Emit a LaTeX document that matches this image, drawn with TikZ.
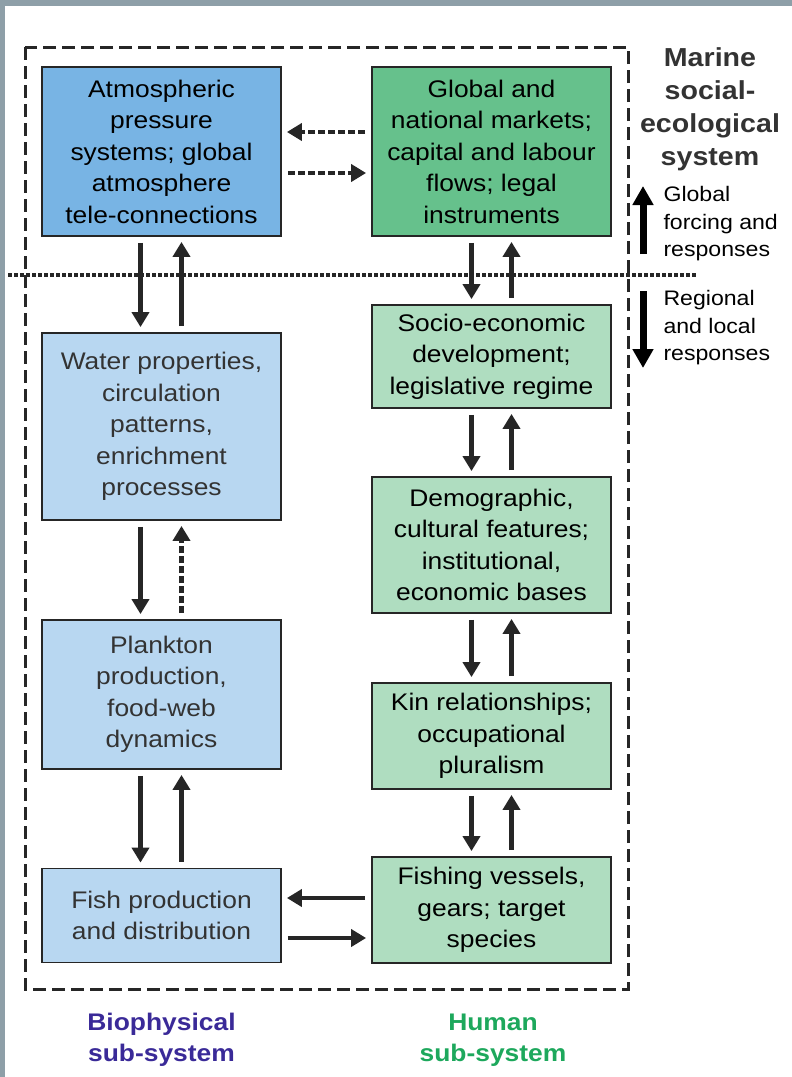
\documentclass[tikz,border=0pt]{standalone}
\usepackage{fontspec}
\setmainfont{Liberation Sans}[FakeStretch=1.1]
\usetikzlibrary{arrows.meta}
\definecolor{atmoblue}{HTML}{78B4E4}
\definecolor{marketgreen}{HTML}{66C18C}
\definecolor{paleblue}{HTML}{B8D7F1}
\definecolor{palegreen}{HTML}{AFDDC0}
\definecolor{textgray}{HTML}{333333}
\definecolor{biopurple}{HTML}{3A2A98}
\definecolor{humangreen}{HTML}{1DA85C}
\definecolor{photo}{HTML}{8E9FA8}
\tikzset{
    box/.style={draw=black!85, line width=1.8pt, minimum width=239pt, inner sep=0pt,
            align=center, font=\fontsize{24}{31.5}\selectfont},
    darkbox/.style={box, text=black},
    lightbox/.style={box, text=textgray},
    flow/.style={line width=4.5pt, draw=black!85, -{Triangle[width=17pt,length=15pt]}, shorten <=6pt, shorten >=5pt},
    dflow/.style={flow, dash pattern=on 7pt off 3pt},
    bigflow/.style={line width=7pt, -{Triangle[width=20pt,length=19pt]}},
    sidetext/.style={align=left, anchor=west, font=\fontsize{21}{27.5}\selectfont},
}
\begin{document}
\begin{tikzpicture}[x=1pt, y=-1pt]
        \useasboundingbox (0, 0) rectangle (792, 1077);
        %background
        \fill[photo] (0, 0) rectangle (792, 1077);
        \fill[white] (5, 6) rectangle (792, 1077);
        %system border and divider
        \draw[line width=3pt, black!85, dash pattern=on 13pt off 6pt] (25, 47) rectangle (628, 989);
        \draw[line width=4pt, black!85, dash pattern=on 4pt off 2pt] (8, 275) -- (697, 275);
        %biophysical boxes
        \node[darkbox, fill=atmoblue, minimum height=169pt] (atmo) at (161.5, 151.5)
            {Atmospheric\\pressure\\systems; global\\atmosphere\\tele-connections};
        \node[lightbox, fill=paleblue, minimum height=187pt] (water) at (161.5, 426.5)
            {Water properties,\\circulation\\patterns,\\enrichment\\processes};
        \node[lightbox, fill=paleblue, minimum height=149pt] (plankton) at (161.5, 694.5)
            {Plankton\\production,\\food-web\\dynamics};
        \node[lightbox, fill=paleblue, minimum height=94pt] (fish) at (161.5, 915.5)
            {Fish production\\and distribution};
        %human boxes
        \node[darkbox, fill=marketgreen, minimum height=169pt] (markets) at (491.5, 151.5)
            {Global and\\national markets;\\capital and labour\\flows; legal\\instruments};
        \node[darkbox, fill=palegreen, minimum height=103pt] (socio) at (491.5, 356.5)
            {Socio-economic\\development;\\legislative regime};
        \node[darkbox, fill=palegreen, minimum height=136pt] (demog) at (491.5, 545)
            {Demographic,\\cultural features;\\institutional,\\economic bases};
        \node[darkbox, fill=palegreen, minimum height=106pt] (kin) at (491.5, 736)
            {Kin relationships;\\occupational\\pluralism};
        \node[darkbox, fill=palegreen, minimum height=106pt] (vessels) at (491.5, 910)
            {Fishing vessels,\\gears; target\\species};
        %links between boxes
        \draw[dflow] ([yshift=19.5pt]markets.west) -- ([yshift=19.5pt]atmo.east);
        \draw[dflow] ([yshift=-21.5pt]atmo.east) -- ([yshift=-21.5pt]markets.west);
        \draw[flow] ([xshift=-21pt]atmo.south) -- ([xshift=-21pt]water.north);
        \draw[flow] ([xshift=20pt]water.north) -- ([xshift=20pt]atmo.south);
        \draw[flow] ([xshift=-21pt]water.south) -- ([xshift=-21pt]plankton.north);
        \draw[dflow] ([xshift=20pt]plankton.north) -- ([xshift=20pt]water.south);
        \draw[flow] ([xshift=-21pt]plankton.south) -- ([xshift=-21pt]fish.north);
        \draw[flow] ([xshift=20pt]fish.north) -- ([xshift=20pt]plankton.south);
        \draw[flow] ([xshift=-20pt]markets.south) -- ([xshift=-20pt]socio.north);
        \draw[flow] ([xshift=20pt]socio.north) -- ([xshift=20pt]markets.south);
        \draw[flow] ([xshift=-20pt]socio.south) -- ([xshift=-20pt]demog.north);
        \draw[flow] ([xshift=20pt]demog.north) -- ([xshift=20pt]socio.south);
        \draw[flow] ([xshift=-20pt]demog.south) -- ([xshift=-20pt]kin.north);
        \draw[flow] ([xshift=20pt]kin.north) -- ([xshift=20pt]demog.south);
        \draw[flow] ([xshift=-20pt]kin.south) -- ([xshift=-20pt]vessels.north);
        \draw[flow] ([xshift=20pt]vessels.north) -- ([xshift=20pt]kin.south);
        \draw[flow] ([yshift=12pt]vessels.west) -- ([yshift=17.5pt]fish.east);
        \draw[flow] ([yshift=-22.5pt]fish.east) -- ([yshift=-28pt]vessels.west);
        %side labels
        \node[font=\fontsize{26}{33}\selectfont\bfseries, text=textgray, align=center] (title) at (710, 109)
            {Marine\\social-\\ecological\\system};
        \coordinate (globaltail) at (643, 254);
        \coordinate (globalhead) at (643, 186);
        \draw[bigflow] (globaltail) -- (globalhead);
        \node[sidetext] (global) at (660, 224) {Global\\forcing and\\responses};
        \coordinate (localtail) at (643, 291);
        \coordinate (localhead) at (643, 368);
        \draw[bigflow] (localtail) -- (localhead);
        \node[sidetext] (local) at (660, 328) {Regional\\and local\\responses};
        %subsystem labels
        \node[font=\fontsize{24}{31}\selectfont\bfseries, text=biopurple, align=center] (bio) at (161.5, 1040)
            {Biophysical\\sub-system};
        \node[font=\fontsize{24}{31}\selectfont\bfseries, text=humangreen, align=center] (human) at (493, 1040)
            {Human\\sub-system};
    \end{tikzpicture}
\end{document}
